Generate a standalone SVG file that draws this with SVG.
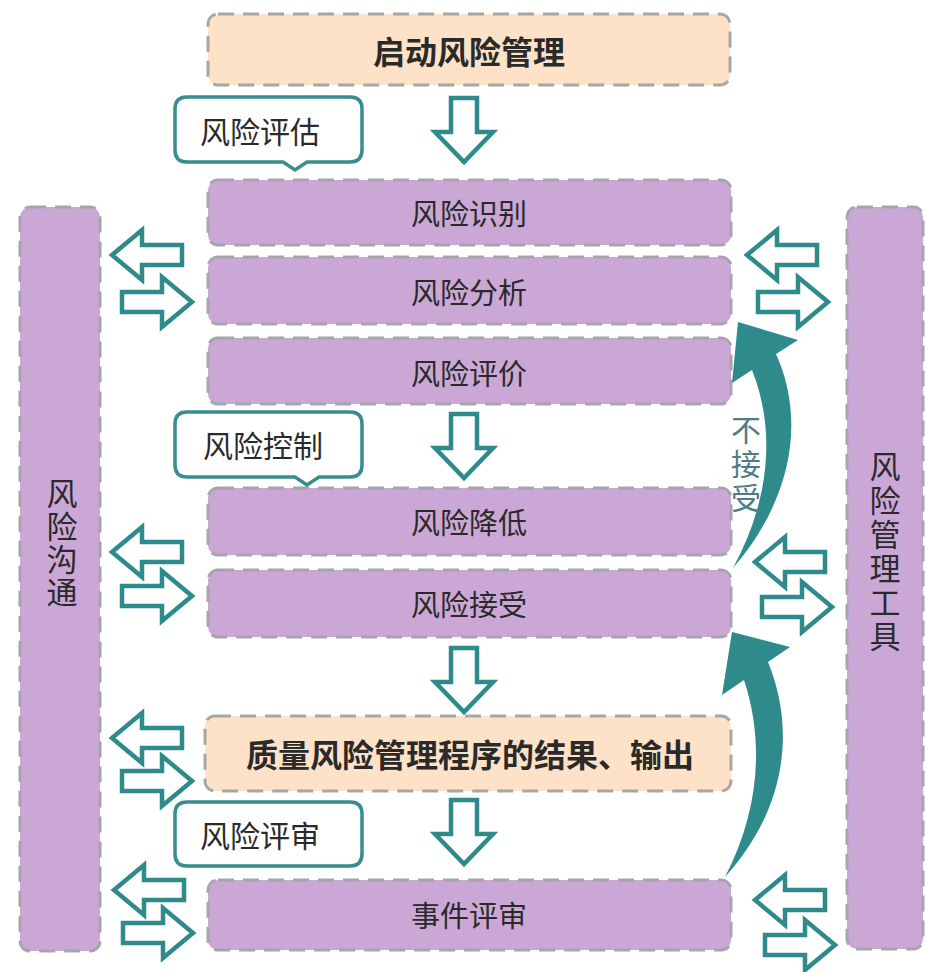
<svg xmlns="http://www.w3.org/2000/svg" width="925" height="972" viewBox="0 0 925 972">
<style>
.txt{font-family:"Noto Sans CJK SC","Noto Sans",sans-serif;fill:#2a2a2a;}
.purple{fill:#cba7d6;stroke:#a6a4ad;stroke-width:3;stroke-dasharray:16 9;}
.peach{fill:#fde2c8;stroke:#a6a6a6;stroke-width:3;stroke-dasharray:16 9;}
.callout{fill:#ffffff;stroke:#3a8d8d;stroke-width:3.5;}
.hollow{fill:#ffffff;stroke:#2f8a8c;stroke-width:4.5;stroke-linejoin:miter;}
.curve{fill:#2f8a8c;}
.boxt{font-size:29px;text-anchor:middle;dominant-baseline:central;}
.bigt{font-size:32px;font-weight:bold;text-anchor:middle;dominant-baseline:central;}
.callt{font-size:30px;dominant-baseline:central;}
.vert{font-size:31px;text-anchor:middle;writing-mode:vertical-rl;}
</style>
<defs>
<polygon id="down" points="-13,0 13,0 13,34 29,34 0,64 -29,34 -13,34"/>
<polygon id="larr" points="0,0 30,-25 30,-10 70,-10 70,10 30,10 30,25"/>
<polygon id="rarr" points="0,0 -30,-25 -30,-10 -70,-10 -70,10 -30,10 -30,25"/>
</defs>
<rect width="925" height="972" fill="#ffffff"/>

<g id="side-left">
<rect class="purple" x="20" y="207" width="80" height="744" rx="10"/>
<text class="txt vert" x="62" y="544" style="letter-spacing:2px">风险沟通</text>
</g>
<g id="side-right">
<rect class="purple" x="847" y="207" width="76" height="742" rx="10"/>
<text class="txt vert" x="885" y="553" style="letter-spacing:3px">风险管理工具</text>
</g>

<g id="start">
<rect class="peach" x="208" y="14" width="522" height="71" rx="10"/>
<text class="txt bigt" x="469" y="50">启动风险管理</text>
</g>
<g id="n-identify">
<rect class="purple" x="208" y="180" width="523" height="65" rx="10"/>
<text class="txt boxt" x="469" y="212">风险识别</text>
</g>
<g id="n-analyze">
<rect class="purple" x="208" y="257" width="523" height="67" rx="10"/>
<text class="txt boxt" x="469" y="291">风险分析</text>
</g>
<g id="n-evaluate">
<rect class="purple" x="208" y="338" width="523" height="66" rx="10"/>
<text class="txt boxt" x="469" y="372">风险评价</text>
</g>
<g id="n-reduce">
<rect class="purple" x="208" y="488" width="523" height="67" rx="10"/>
<text class="txt boxt" x="469" y="521">风险降低</text>
</g>
<g id="n-accept">
<rect class="purple" x="208" y="570" width="523" height="67" rx="10"/>
<text class="txt boxt" x="469" y="603">风险接受</text>
</g>
<g id="n-output">
<rect class="peach" x="205" y="716" width="526" height="75" rx="10"/>
<text class="txt bigt" x="470" y="753">质量风险管理程序的结果、输出</text>
</g>
<g id="n-review">
<rect class="purple" x="208" y="880" width="523" height="70" rx="10"/>
<text class="txt boxt" x="469" y="914">事件评审</text>
</g>

<g id="c-assess">
<path class="callout" d="M187,97 H350 Q362,97 362,109 V150 Q362,162 350,162 H307 L295,170 L283,162 H187 Q175,162 175,150 V109 Q175,97 187,97 Z"/>
<text class="txt callt" x="200" y="130">风险评估</text>
</g>
<g id="c-control">
<path class="callout" d="M187,412 H350 Q362,412 362,424 V465 Q362,477 350,477 H319 L307,485 L295,477 H187 Q175,477 175,465 V424 Q175,412 187,412 Z"/>
<text class="txt callt" x="203" y="444">风险控制</text>
</g>
<g id="c-review">
<path class="callout" d="M187,802 H350 Q362,802 362,814 V854 Q362,866 350,866 H187 Q175,866 175,854 V814 Q175,802 187,802 Z"/>
<text class="txt callt" x="200" y="834">风险评审</text>
</g>

<g id="connectors">
<use href="#down" class="hollow" x="464" y="98"/>
<use href="#down" class="hollow" x="464" y="414"/>
<use href="#down" class="hollow" x="464" y="648"/>
<use href="#down" class="hollow" x="464" y="800"/>

<use href="#larr" class="hollow" x="112" y="255"/>
<use href="#rarr" class="hollow" x="192" y="302"/>
<use href="#larr" class="hollow" x="112" y="552"/>
<use href="#rarr" class="hollow" x="192" y="596"/>
<use href="#larr" class="hollow" x="112" y="738"/>
<use href="#rarr" class="hollow" x="192" y="781"/>
<use href="#larr" class="hollow" x="114" y="890"/>
<use href="#rarr" class="hollow" x="193" y="933"/>

<use href="#larr" class="hollow" x="747" y="255"/>
<use href="#rarr" class="hollow" x="828" y="302"/>
<use href="#larr" class="hollow" x="755" y="562"/>
<use href="#rarr" class="hollow" x="832" y="607"/>
<use href="#larr" class="hollow" x="755" y="900"/>
<use href="#rarr" class="hollow" x="835" y="945"/>

<path class="curve" d="M733,568 C792,500 806,420 776,354 L798,340 L738,322 L732,383 L752,370 C776,430 770,500 733,568 Z"/>
<path class="curve" d="M725,877 C786,810 796,730 768,662 L790,647 L732,632 L722,695 L744,680 C764,740 760,810 725,877 Z"/>
<text class="txt vert" x="746" y="466" style="font-size:30px;fill:#4f7d84;letter-spacing:4px">不接受</text>
</g>
</svg>
